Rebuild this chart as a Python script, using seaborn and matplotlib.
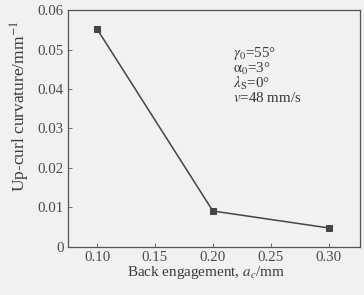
import matplotlib
matplotlib.use("Agg")
import matplotlib.pyplot as plt
import seaborn as sns
import pandas as pd

back_engagement = [0.10, 0.20, 0.30]
curvature = [0.0552, 0.0091, 0.0048]
x_ticks = [0.10, 0.15, 0.20, 0.25, 0.30]
x_tick_labels = ["0.10", "0.15", "0.20", "0.25", "0.30"]
y_ticks = [0, 0.01, 0.02, 0.03, 0.04, 0.05, 0.06]
y_tick_labels = ["0", "0.01", "0.02", "0.03", "0.04", "0.05", "0.06"]
annotation_lines = [r"$\gamma_0$=55°", r"$\mathrm{\alpha}_0$=3°", r"$\lambda_\mathrm{S}$=0°", r"$v$=48 mm/s"]

sns.set_style("ticks")
plt.rcParams["font.family"] = ["Liberation Serif", "DejaVu Serif"]
plt.rcParams["mathtext.fontset"] = "stix"

df = pd.DataFrame({"x": back_engagement, "y": curvature})

bg = "#f1f1ef"
fig = plt.figure(figsize=(3.64, 2.95), dpi=100)
fig.patch.set_facecolor(bg)
ax = fig.add_axes([0.187, 0.163, 0.802, 0.803])
ax.set_facecolor(bg)

sns.lineplot(data=df, x="x", y="y", ax=ax, color="#454545", linewidth=1.1,
             marker="s", markersize=4.5, markeredgecolor="#454545")

ax.set_xlim(0.075, 0.327)
ax.set_ylim(0, 0.06)
ax.set_xticks(x_ticks)
ax.set_xticklabels(x_tick_labels)
ax.set_yticks(y_ticks)
ax.set_yticklabels(y_tick_labels)
ax.tick_params(direction="in", length=3, width=0.6, labelsize=10.7, colors="#555555",
               labelcolor="#4a4a4a", pad=3)
for s in ax.spines.values():
    s.set_color("#555555")
    s.set_linewidth(0.9)

ax.set_xlabel(r"Back engagement, $a_c$/mm", fontsize=10.9, color="#3a3a3a", va="center")
ax.xaxis.set_label_coords(0.473, -0.11)
ax.set_ylabel(r"Up-curl curvature/mm$^{-1}$", fontsize=12.5, color="#3a3a3a", va="center")
ax.yaxis.set_label_coords(-0.164, 0.595)

ax.text(0.217, 0.0512, "\n".join(annotation_lines), fontsize=10.8, color="#3a3a3a",
        va="top", ha="left", linespacing=0.9)

fig.savefig("out.png", dpi=100, facecolor=fig.get_facecolor())
